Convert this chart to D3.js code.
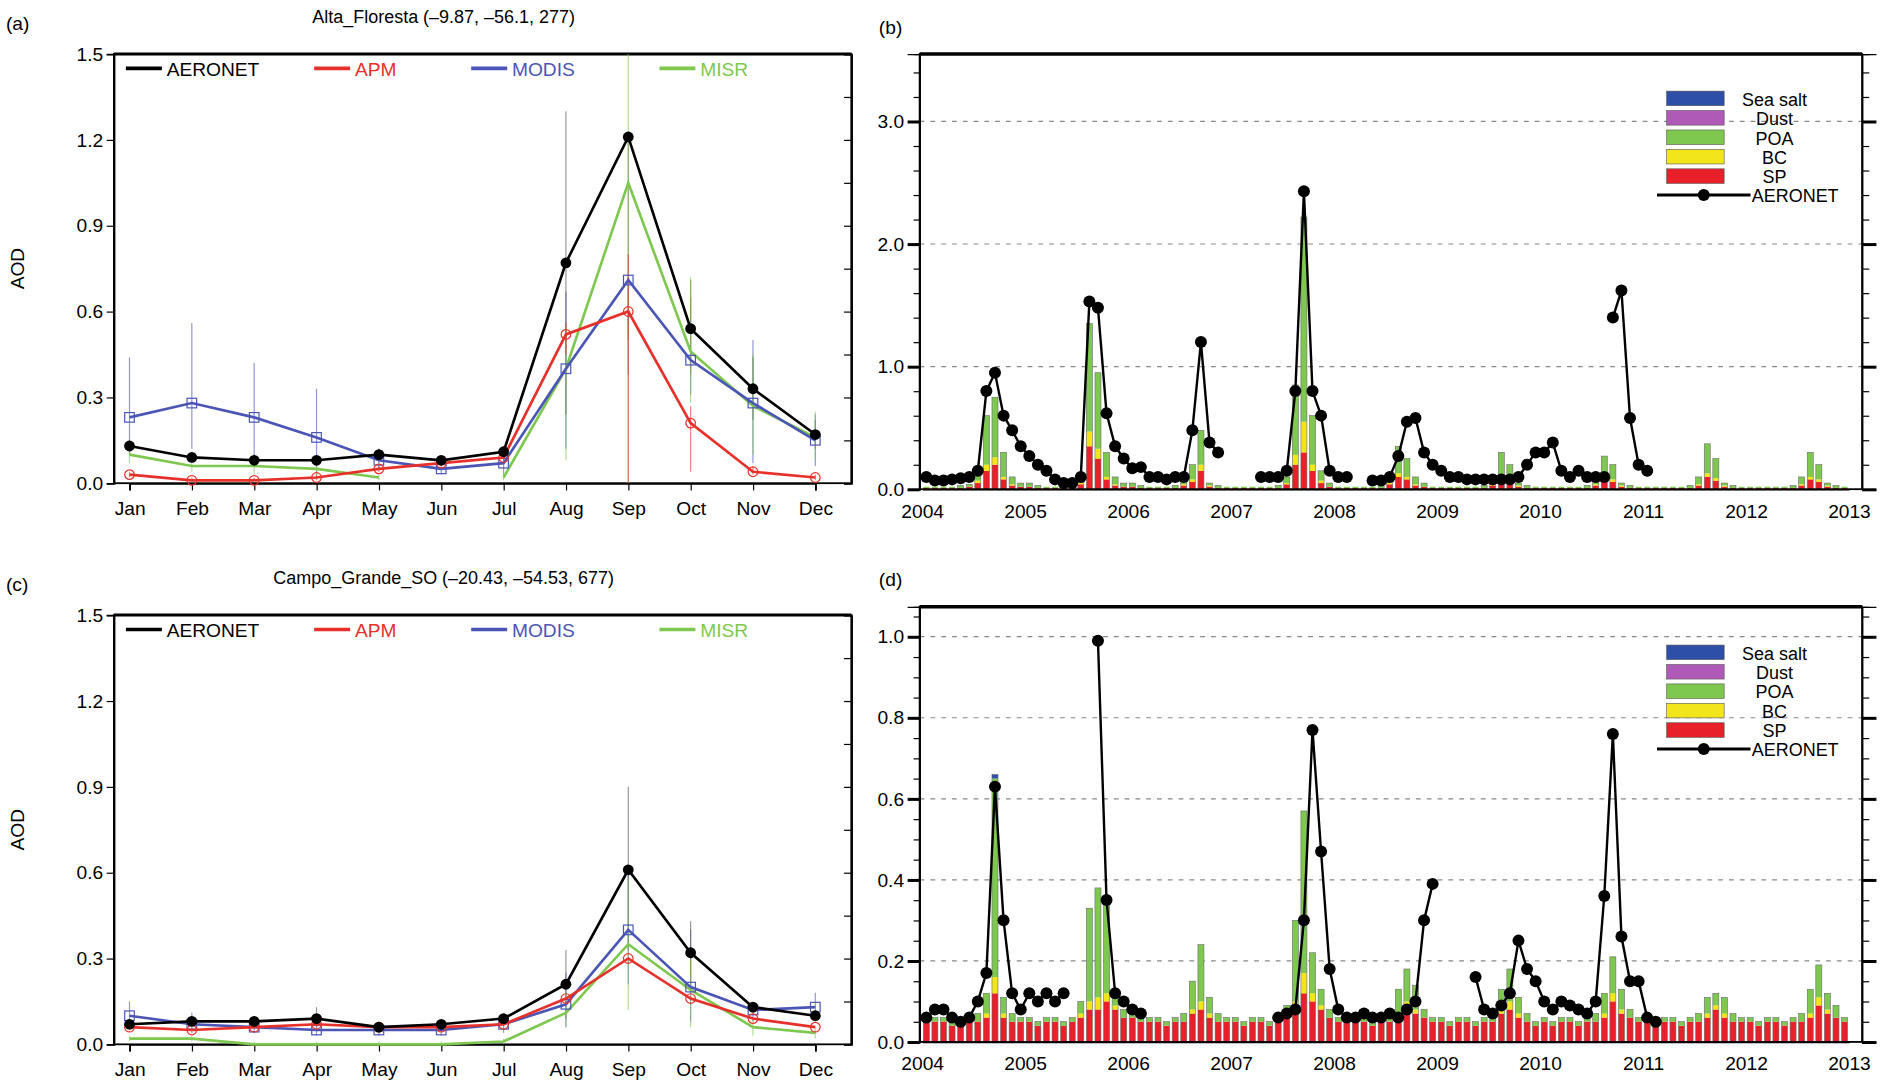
<!DOCTYPE html>
<html><head><meta charset="utf-8">
<script src="https://cdn.jsdelivr.net/npm/d3@7"></script>
<style>body{margin:0;background:#fff}svg{font-family:"Liberation Sans",Arial,sans-serif}</style>
</head><body><svg id="c" width="1880" height="1088"></svg>
<script>
const months=["Jan","Feb","Mar","Apr","May","Jun","Jul","Aug","Sep","Oct","Nov","Dec"];
const years=[2004,2005,2006,2007,2008,2009,2010,2011,2012,2013];
// Panel a: Alta_Floresta
const aAeronet=[.13,.09,.08,.08,.10,.08,.11,.77,1.21,.54,.33,.17];
const aAPM=[.03,.01,.01,.02,.05,.07,.09,.52,.60,.21,.04,.02];
const aMODIS=[.23,.28,.23,.16,.08,.05,.07,.40,.71,.43,.28,.15];
const aMISR=[.10,.06,.06,.05,.02,null,.02,.40,1.05,.46,.27,.16];
const aModisHi=[.44,.56,.42,.33,.12,.09,.12,.67,.72,.65,.50,.24];
const aModisLo=[.12,.12,.06,.03,.05,.03,.03,.12,.38,.31,.07,.06];
const aAeroHi=[.15,.10,.10,.10,.12,.09,.13,1.30,1.22,.71,.44,.22];
const aAeroLo=[.10,.08,.06,.06,.08,.07,.09,.24,.50,.38,.22,.12];
const aMisrHi=[.14,.08,.10,.08,.03,null,.04,.55,1.50,.72,.45,.25];
const aMisrLo=[.07,.04,.03,.02,.01,null,.01,.08,0,.28,.10,.08];
const aApmHi=[.04,.02,.02,.03,.06,.08,.10,.56,.80,.27,.06,.03];
const aApmLo=[.02,.01,.01,.01,.04,.06,.08,.45,.00,.04,.03,.01];
// Panel c: Campo_Grande_SO
const cAeronet=[.07,.08,.08,.09,.06,.07,.09,.21,.61,.32,.13,.10];
const cAPM=[.06,.05,.06,.07,.06,.06,.07,.16,.30,.16,.09,.06];
const cMODIS=[.10,.07,.06,.05,.05,.05,.07,.14,.40,.20,.12,.13];
const cMISR=[.02,.02,.00,.00,.00,.00,.01,.11,.35,.19,.06,.04];
const cModisHi=[.15,.11,.08,.07,.06,.06,.09,.25,.60,.40,.14,.18];
const cModisLo=[.06,.04,.04,.03,.03,.03,.04,.06,.21,.08,.08,.08];
const cAeroHi=[.08,.09,.09,.13,.07,.08,.10,.33,.90,.43,.14,.11];
const cAeroLo=[.06,.07,.07,.06,.05,.06,.08,.09,.33,.21,.11,.09];
const cMisrHi=[.03,.03,.01,.01,.01,.01,.02,.18,.58,.30,.09,.06];
const cMisrLo=[.01,.01,0,0,0,0,0,.06,.12,.06,.03,.02];
// Panel b: Alta_Floresta monthly 2004-2012
const bSP=[.01,.01,.01,.01,.01,.02,.05,.15,.2,.08,.03,.02, .02,.01,.01,.01,.01,.01,.04,.35,.25,.08,.03,.02, .02,.01,.01,.01,.01,.01,.03,.06,.15,.02,.01,.01, .01,.01,.01,.01,.01,.01,.04,.2,.3,.15,.05,.02, .01,.01,.01,.01,.01,.01,.04,.1,.08,.03,.02,.01, .01,.01,.01,.01,.01,.01,.03,.08,.06,.02,.01,.01, .01,.01,.01,.01,.01,.01,.03,.08,.06,.02,.01,.01, .01,.01,.01,.01,.01,.01,.03,.1,.07,.02,.01,.01, .01,.01,.01,.01,.01,.01,.03,.08,.06,.02,.01,.01];
const bBC=[0,0,0,0,0,0,.02,.05,.06,.02,.01,0, 0,0,0,0,0,0,.01,.12,.08,.02,.01,0, 0,0,0,0,0,0,.01,.02,.05,.01,0,0, 0,0,0,0,0,0,.01,.08,.25,.05,.02,0, 0,0,0,0,0,0,.01,.03,.02,.01,0,0, 0,0,0,0,0,0,.01,.02,.02,.01,0,0, 0,0,0,0,0,0,.01,.02,.02,.01,0,0, 0,0,0,0,0,0,.01,.03,.02,.01,0,0, 0,0,0,0,0,0,.01,.02,.02,.01,0,0];
const bPOA=[.01,.01,.01,.01,.02,.02,.08,.4,.49,.2,.06,.03, .03,.02,.01,.01,.01,.02,.05,.88,.62,.2,.06,.03, .03,.02,.01,.01,.01,.02,.04,.12,.28,.02,.02,.01, .01,.01,.01,.01,.01,.02,.05,.57,1.67,.4,.08,.03, .01,.01,.01,.01,.01,.02,.05,.22,.15,.06,.03,.01, .01,.01,.01,.01,.01,.02,.06,.2,.12,.02,.02,.01, .01,.01,.01,.01,.01,.02,.06,.17,.12,.02,.02,.01, .01,.01,.01,.01,.01,.02,.06,.24,.16,.02,.02,.01, .01,.01,.01,.01,.01,.02,.06,.2,.12,.02,.02,.01];
const bAeronet=[.1,.07,.07,.08,.09,.1,.15,.8,.95,.6,.48,.35, .27,.2,.15,.08,.05,.05,.1,1.53,1.48,.62,.35,.25, .17,.18,.1,.1,.08,.1,.1,.48,1.2,.38,.3,null, null,null,null,.1,.1,.1,.15,.8,2.43,.8,.6,.15, .1,.1,null,null,.07,.07,.1,.27,.55,.58,.3,.2, .15,.1,.1,.08,.08,.08,.08,.08,.08,.1,.2,.3, .3,.38,.15,.1,.15,.1,.1,.1,null,null,null,null, null,null,null,null,null,null,null,null,null,null,null,null, null,null,null,null,null,null,null,null,null,null,null,null];
const bAeronet2=[
null,null,null,null,null,null,null,null,null,null,null,null, null,null,null,null,null,null,null,null,null,null,null,null, null,null,null,null,null,null,null,null,null,null,null,null, null,null,null,null,null,null,null,null,null,null,null,null, null,null,null,null,null,null,null,null,null,null,null,null, null,null,null,null,null,null,null,null,null,null,null,null, null,null,null,null,null,null,null,null,1.4,1.62,.58,.2, .15,null,null,null,null,null,null,null,null,null,null,null, null,null,null,null,null,null,null,null,null,null,null,null];
// Panel d: Campo_Grande_SO monthly 2004-2012
const dSP=[.05,.05,.05,.04,.04,.05,.05,.06,.12,.06,.05,.05, .05,.04,.05,.05,.04,.05,.06,.08,.08,.1,.08,.06, .06,.05,.05,.05,.04,.05,.05,.07,.08,.06,.05,.05, .05,.04,.05,.05,.04,.05,.06,.08,.12,.1,.08,.06, .05,.05,.05,.05,.04,.05,.05,.06,.08,.07,.06,.05, .05,.04,.05,.05,.04,.05,.05,.07,.08,.06,.05,.04, .05,.04,.05,.05,.04,.05,.05,.06,.1,.07,.06,.05, .05,.05,.05,.05,.04,.05,.05,.06,.08,.06,.05,.05, .05,.04,.05,.05,.04,.05,.05,.06,.09,.07,.06,.05];
const dBC=[0,0,0,0,0,0,0,.01,.04,.01,0,0, 0,0,0,0,0,0,.01,.02,.03,.02,.01,0, 0,0,0,0,0,0,0,.01,.02,.01,0,0, 0,0,0,0,0,0,.01,.02,.05,.02,.01,0, 0,0,0,0,0,0,0,.01,.02,.01,0,0, 0,0,0,0,0,0,0,.01,.02,.01,0,0, 0,0,0,0,0,0,0,.01,.02,.01,0,0, 0,0,0,0,0,0,0,.01,.01,.01,0,0, 0,0,0,0,0,0,0,.01,.02,.01,0,0];
const dPOA=[.01,.01,.01,.01,.01,.01,.02,.05,.49,.04,.02,.01, .01,.01,.01,.01,.01,.01,.03,.23,.27,.22,.03,.02, .02,.01,.01,.01,.01,.01,.02,.07,.14,.04,.02,.01, .01,.01,.01,.01,.01,.01,.02,.2,.4,.1,.04,.02, .01,.01,.01,.01,.01,.01,.02,.06,.08,.06,.02,.01, .01,.01,.01,.01,.01,.01,.02,.05,.08,.04,.02,.01, .01,.01,.01,.01,.01,.01,.02,.05,.09,.05,.02,.01, .01,.01,.01,.01,.01,.01,.02,.04,.03,.04,.02,.01, .01,.01,.01,.01,.01,.01,.02,.06,.08,.04,.03,.01];
const dSalt=[0,0,0,0,0,0,0,0,.01,0,0,0, 0,0,0,0,0,0,0,0,0,0,0,0, 0,0,0,0,0,0,0,0,0,0,0,0, 0,0,0,0,0,0,0,0,0,0,0,0, 0,0,0,0,0,0,0,0,0,0,0,0, 0,0,0,0,0,0,0,0,0,0,0,0, 0,0,0,0,0,0,0,0,0,0,0,0, 0,0,0,0,0,0,0,0,0,0,0,0, 0,0,0,0,0,0,0,0,0,0,0,0];
const dAeronet=[.06,.08,.08,.06,.05,.06,.1,.17,.63,.3,.12,.08, .12,.1,.12,.1,.12,null,null,null,.99,.35,.12,.1, .08,.07,null,null,null,null,null,null,null,null,null,null, null,null,null,null,null,.06,.07,.08,.3,.77,.47,.18, .08,.06,.06,.07,.06,.06,.07,.06,.08,.1,.3,.39, null,null,null,null,.16,.08,.07,.09,.12,.25,.18,.15, .1,.08,.1,.09,.08,.07,.1,.36,.76,.26,.15,.15, .06,.05,null,null,null,null,null,null,null,null,null,null, null,null,null,null,null,null,null,null,null,null,null,null];

const svg=d3.select("#c").append("g").attr("transform","scale(1.199)");
const C={aer:"#000",apm:"#e8302a",modis:"#4a55b5",misr:"#7ec850",sp:"#e8202a",bc:"#f0e61a",poa:"#7ec850",dust:"#b05ab8",salt:"#2d4fa8"};
const cross=d3.symbol().type(d3.symbolTimes).size(14);

function climPanel(top,bottom,title,label,D){
  const x=d3.scalePoint().domain(months).range([108,680]);
  const y=d3.scaleLinear().domain([0,1.5]).range([bottom,top]);
  const g=svg.append("g");
  g.append("rect").attr("x",95).attr("y",top).attr("width",615).attr("height",bottom-top).attr("fill","none").attr("stroke","#000").attr("stroke-width",1.5);
  g.append("line").attr("x1",95).attr("x2",710).attr("y1",top).attr("y2",top).attr("stroke","#000").attr("stroke-width",2.5);
  const ya=g.append("g").attr("transform","translate(95,0)").call(d3.axisLeft(y).tickValues([0,.3,.6,.9,1.2,1.5]).tickFormat(d3.format(".1f")).tickSize(6));
  ya.selectAll("text").attr("font-size",16);
  g.append("g").attr("transform","translate(710,0)").call(d3.axisLeft(y).tickValues(d3.range(0,1.51,.15)).tickFormat("").tickSize(6));
  g.append("g").attr("transform","translate(710,0)").call(d3.axisRight(y).tickValues([0,.3,.6,.9,1.2,1.5]).tickFormat("").tickSize(0));
  const xa=g.append("g").attr("transform",`translate(0,${bottom})`).call(d3.axisBottom(x).tickSize(6));
  xa.selectAll("text").attr("font-size",16).attr("dy","1.1em");
  g.selectAll(".domain").attr("stroke","#000").attr("stroke-width",1.5);
  svg.append("text").attr("x",20).attr("y",(top+bottom)/2).attr("transform",`rotate(-90,20,${(top+bottom)/2})`).attr("text-anchor","middle").attr("font-size",16).text("AOD");
  svg.append("text").attr("x",5).attr("y",top-20).attr("font-size",16).text(label);
  svg.append("text").attr("x",370).attr("y",top-26).attr("text-anchor","middle").attr("font-size",15).text(title);
  D.err.forEach(e=>{
    months.forEach((m,i)=>{
      if(e.hi[i]==null)return;
      g.append("line").attr("x1",x(m)).attr("x2",x(m)).attr("y1",y(e.lo[i])).attr("y2",y(e.hi[i])).attr("stroke",e.c).attr("stroke-width",1).attr("opacity",.6);
      [e.lo[i],e.hi[i]].forEach(v=>g.append("path").attr("d",cross).attr("transform",`translate(${x(m)},${y(v)})`).attr("fill",e.c));
    });
  });
  const line=d3.line().defined(d=>d!=null).x((d,i)=>x(months[i])).y(d=>y(d));
  D.series.forEach(s=>{
    g.append("path").datum(s.v).attr("d",line).attr("fill","none").attr("stroke",s.c).attr("stroke-width",2.2);
    s.v.forEach((d,i)=>{ if(d==null)return;
      if(s.m==="dot")g.append("circle").attr("cx",x(months[i])).attr("cy",y(d)).attr("r",4.5).attr("fill","#000");
      else if(s.m==="circ")g.append("circle").attr("cx",x(months[i])).attr("cy",y(d)).attr("r",4).attr("fill","none").attr("stroke",s.c);
      else if(s.m==="sq")g.append("rect").attr("x",x(months[i])-4).attr("y",y(d)-4).attr("width",8).attr("height",8).attr("fill","none").attr("stroke",s.c);
      else g.append("path").attr("d",d3.symbol().type(d3.symbolTimes).size(30)).attr("transform",`translate(${x(months[i])},${y(d)})`).attr("fill",s.c);
    });
  });
  const leg=[["AERONET",C.aer,105],["APM",C.apm,262],["MODIS",C.modis,393],["MISR",C.misr,550]];
  leg.forEach(([n,c,lx])=>{
    g.append("line").attr("x1",lx).attr("x2",lx+30).attr("y1",top+12).attr("y2",top+12).attr("stroke",c).attr("stroke-width",3);
    g.append("text").attr("x",lx+34).attr("y",top+18).attr("font-size",16).attr("fill",n==="AERONET"?"#000":c).text(n);
  });
}
climPanel(45,403,"Alta_Floresta (–9.87, –56.1, 277)","(a)",{
  series:[{v:aMISR,c:C.misr,m:"x"},{v:aMODIS,c:C.modis,m:"sq"},{v:aAPM,c:C.apm,m:"circ"},{v:aAeronet,c:C.aer,m:"dot"}],
  err:[{hi:aModisHi,lo:aModisLo,c:C.modis},{hi:aAeroHi,lo:aAeroLo,c:"#555"},{hi:aMisrHi,lo:aMisrLo,c:C.misr},{hi:aApmHi,lo:aApmLo,c:C.apm}]});
climPanel(513,871,"Campo_Grande_SO (–20.43, –54.53, 677)","(c)",{
  series:[{v:cMISR,c:C.misr,m:"x"},{v:cMODIS,c:C.modis,m:"sq"},{v:cAPM,c:C.apm,m:"circ"},{v:cAeronet,c:C.aer,m:"dot"}],
  err:[{hi:cModisHi,lo:cModisLo,c:C.modis},{hi:cAeroHi,lo:cAeroLo,c:"#555"},{hi:cMisrHi,lo:cMisrLo,c:C.misr}]});

function tsPanel(top,bottom,ymax,ticks,minor,label,D){
  const x=d3.scaleLinear().domain([2004,2013]).range([769,1542]);
  const y=d3.scaleLinear().domain([0,ymax]).range([bottom,top]);
  const g=svg.append("g");
  svg.append("text").attr("x",733).attr("y",top-17).attr("font-size",16).text(label);
  ticks.forEach(t=>{ if(t===0)return; g.append("line").attr("x1",767).attr("x2",1553).attr("y1",y(t)).attr("y2",y(t)).attr("stroke","#888").attr("stroke-dasharray","4,5");});
  const n=D.sp.length, bw=(x(2005)-x(2004))/12*0.7;
  for(let i=0;i<n;i++){
    const xc=x(2004+(i+0.5)/12);
    let acc=0;
    [["sp",C.sp],["bc",C.bc],["poa",C.poa],["salt",C.salt]].forEach(([k,c])=>{
      const v=D[k]?D[k][i]:0; if(!v)return;
      g.append("rect").attr("x",xc-bw/2).attr("width",bw).attr("y",y(acc+v)).attr("height",y(acc)-y(acc+v)).attr("fill",c);
      acc+=v;
    });
    if(acc>0.02)g.append("rect").attr("x",xc-bw/2).attr("width",bw).attr("y",y(acc)).attr("height",y(0)-y(acc)).attr("fill","none").attr("stroke","#6a6a6a").attr("stroke-width",.5);
  }
  const line=d3.line().defined(d=>d!=null).x((d,i)=>x(2004+(i+0.5)/12)).y(d=>y(d));
  D.aer.forEach(arr=>{
    g.append("path").datum(arr).attr("d",line).attr("fill","none").attr("stroke","#000").attr("stroke-width",2);
    arr.forEach((d,i)=>{ if(d!=null)g.append("circle").attr("cx",x(2004+(i+0.5)/12)).attr("cy",y(d)).attr("r",5).attr("fill","#000");});
  });
  g.append("rect").attr("x",767).attr("y",top).attr("width",786).attr("height",bottom-top).attr("fill","none").attr("stroke","#000").attr("stroke-width",1.5);
  g.append("line").attr("x1",767).attr("x2",1553).attr("y1",top).attr("y2",top).attr("stroke","#000").attr("stroke-width",3);
  const ya=g.append("g").attr("transform","translate(767,0)").call(d3.axisLeft(y).tickValues(ticks).tickFormat(d3.format(".1f")).tickSize(10));
  ya.selectAll("text").attr("font-size",16);
  ya.selectAll(".tick line").attr("stroke-width",2.5);
  g.append("g").attr("transform","translate(767,0)").call(d3.axisLeft(y).tickValues(minor).tickFormat("").tickSize(5));
  const yr=g.append("g").attr("transform","translate(1553,0)").call(d3.axisRight(y).tickValues(ticks).tickFormat("").tickSize(12));
  yr.selectAll(".tick line").attr("stroke-width",2.5);
  g.append("g").attr("transform","translate(1553,0)").call(d3.axisRight(y).tickValues(minor).tickFormat("").tickSize(6));
  const xa=g.append("g").attr("transform",`translate(0,${bottom})`).call(d3.axisBottom(x).tickValues(years).tickFormat(d3.format("d")).tickSize(0));
  xa.selectAll("text").attr("font-size",16).attr("dy","1.3em");
  g.selectAll(".domain").attr("stroke","#000");
  const lx=1390, ly=top+D.legTop, dy=D.legDy;
  [["Sea salt",C.salt],["Dust",C.dust],["POA",C.poa],["BC",C.bc],["SP",C.sp]].forEach(([nme,c],k)=>{
    g.append("rect").attr("x",lx).attr("y",ly+k*dy).attr("width",48).attr("height",dy*0.75).attr("fill",c).attr("stroke","#555").attr("stroke-width",.5);
    g.append("text").attr("x",1480).attr("y",ly+k*dy+dy*0.75).attr("text-anchor","middle").attr("font-size",15).text(nme);
  });
  const yl=ly+5*dy+dy*0.35;
  g.append("line").attr("x1",1382).attr("x2",1460).attr("y1",yl).attr("y2",yl).attr("stroke","#000").attr("stroke-width",2.5);
  g.append("circle").attr("cx",1421).attr("cy",yl).attr("r",5).attr("fill","#000");
  g.append("text").attr("x",1461).attr("y",yl+6).attr("font-size",15).text("AERONET");
}
tsPanel(45,408,3.55,[0,1,2,3],d3.range(0,3.55,0.2),"(b)",{sp:bSP,bc:bBC,poa:bPOA,aer:[bAeronet,bAeronet2],legTop:31,legDy:16.2});
tsPanel(506,869,1.074,[0,.2,.4,.6,.8,1.0],d3.range(0,1.074,0.05),"(d)",{sp:dSP,bc:dBC,poa:dPOA,salt:dSalt,aer:[dAeronet],legTop:32,legDy:16.2});
</script></body></html>
